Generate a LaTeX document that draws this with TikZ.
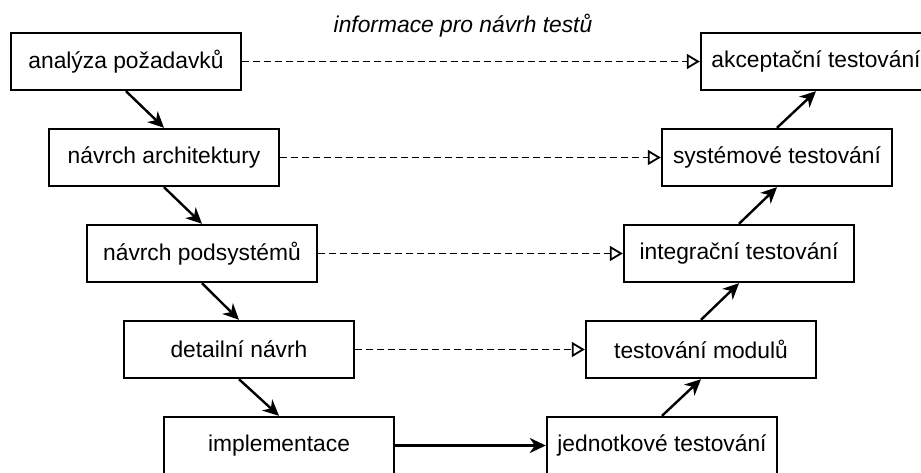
\documentclass[tikz,border=0pt]{standalone}
\usepackage{fontspec}
\setmainfont{Liberation Sans}
\usetikzlibrary{arrows.meta}
\begin{document}
\begin{tikzpicture}[x=1pt,y=-1pt,
  stage/.style={draw, line width=2.4pt, minimum width=230pt, minimum height=57pt,
    inner sep=0pt, font=\fontsize{22.8}{26}\selectfont},
  flow/.style={line width=2.4pt, -{Stealth[length=16pt,width=15pt,inset=5pt]}},
  info/.style={line width=1.8pt, dash pattern=on 6.5pt off 4.5pt,
    -{Triangle[open,length=13pt,width=15pt,line width=1.8pt]}},
  caption/.style={font=\fontsize{22.8}{26}\selectfont\itshape}]
\useasboundingbox (0,0) rectangle (921,473);

% design phases (left branch)
\node[stage] (req)  at (126,61.5)  {analýza požadavků};
\node[stage] (arch) at (164,157.5) {návrch architektury};
\node[stage] (sub)  at (202,253.5) {návrch podsystémů};
\node[stage] (det)  at (239,349.5) {detailní návrh};
\node[stage] (impl) at (279,445.5) {implementace};

% testing phases (right branch)
\node[stage] (acc)  at (816,61.5)  {akceptační testování};
\node[stage] (sys)  at (777,157.5) {systémové testování};
\node[stage] (int)  at (739,253.5) {integrační testování};
\node[stage] (mod)  at (701,349.5) {testování modulů};
\node[stage] (unit) at (662,445.5) {jednotkové testování};

\node[caption] (cap) at (463,26) {informace pro návrh testů};

% descending branch
\draw[flow] (req.south) -- (arch.north);
\draw[flow] (arch.south) -- (sub.north);
\draw[flow] (sub.south) -- (det.north);
\draw[flow] (det.south) -- (impl.north);

% bottom link
\draw[flow] (impl.east) -- (unit.west);

% ascending branch
\draw[flow] (unit.north) -- (mod.south);
\draw[flow] (mod.north) -- (int.south);
\draw[flow] (int.north) -- (sys.south);
\draw[flow] (sys.north) -- (acc.south);

% information for test design
\draw[info] (req.east) -- (acc.west);
\draw[info] (arch.east) -- (sys.west);
\draw[info] (sub.east) -- (int.west);
\draw[info] (det.east) -- (mod.west);
\end{tikzpicture}
\end{document}
